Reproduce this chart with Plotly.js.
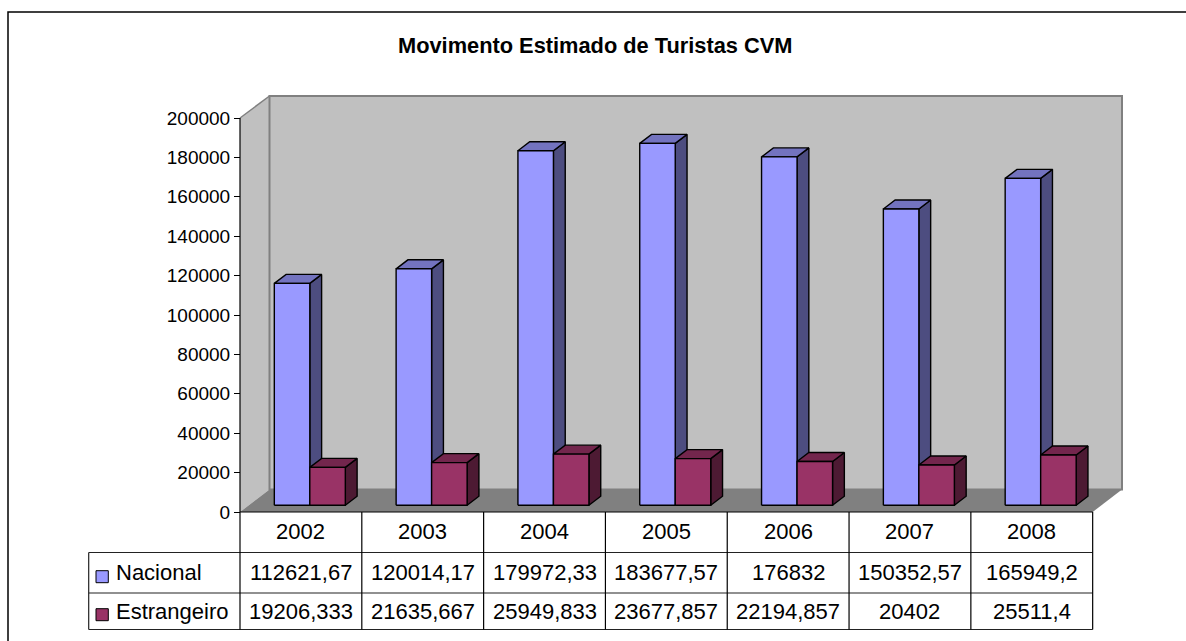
<!DOCTYPE html>
<html>
<head>
<meta charset="utf-8">
<script src="https://cdn.plot.ly/plotly-3.0.1.min.js"></script>
<style>html,body{margin:0;padding:0;background:#fff;}#chart{width:1186px;height:641px;}</style>
</head>
<body>
<div id="chart"></div>
<script>
// ---- data ----
const categories = ['2002', '2003', '2004', '2005', '2006', '2007', '2008'];
const nacional = [112621.67, 120014.17, 179972.33, 183677.57, 176832, 150352.57, 165949.2];
const estrangeiro = [19206.333, 21635.667, 25949.833, 23677.857, 22194.857, 20402, 25511.4];
const seriesNames = ['Nacional', 'Estrangeiro'];
const yTicks = [0, 20000, 40000, 60000, 80000, 100000, 120000, 140000, 160000, 180000, 200000];
const titleText = 'Movimento Estimado de Turistas CVM';

// ---- geometry (pixel frame of the page) ----
const W = 1186, H = 641;
const PX0 = 240, CW = 121.81;   // left of first category, category width (px)
const Y0 = 512, KY = 0.00197;   // px of zero, px per unit
function xd(px) { return (px - PX0) / CW - 0.5; }
function yd(py) { return (Y0 - py) / KY; }
const FONT = '"Liberation Sans", Arial, sans-serif';

const offF = 8.9 / CW, bw = 35.5 / CW, ddx = 11.8 / CW, ddy = 9 / KY, base = 6.75 / KY;

const frontCol = ['#9999FF', '#993366'];
const sideCol = ['#4D4D80', '#4D1A33'];
const topCol = ['#7373BF', '#73264D'];

function faces(vals, s) {
  const fx = [], fy = [], sx = [], sy = [], tx = [], ty = [];
  vals.forEach((v, i) => {
    const xl = s === 0 ? i + offF - bw : i + offF;
    const xr = xl + bw;
    const b = base, t = base + v;
    fx.push(xl, xr, xr, xl, xl, null); fy.push(b, b, t, t, b, null);
    sx.push(xr, xr + ddx, xr + ddx, xr, xr, null); sy.push(b, b + ddy, t + ddy, t, b, null);
    tx.push(xl, xr, xr + ddx, xl + ddx, xl, null); ty.push(t, t, t + ddy, t + ddy, t, null);
  });
  const mk = (x, y, c) => ({
    type: 'scatter', mode: 'lines', x: x, y: y, fill: 'toself', fillcolor: c,
    line: {color: '#000', width: 1.4}, hoverinfo: 'skip', showlegend: false
  });
  return [mk(sx, sy, sideCol[s]), mk(tx, ty, topCol[s]), mk(fx, fy, frontCol[s])];
}

const traces = [].concat(faces(nacional, 0), faces(estrangeiro, 1));

function P(pts) {
  return pts.map((p, k) => (k ? 'L' : 'M') + xd(p[0]) + ',' + yd(p[1])).join(' ') + ' Z';
}
function line(x0, y0, x1, y1, col, w) {
  return {type: 'line', xref: 'x', yref: 'y', x0: xd(x0), y0: yd(y0), x1: xd(x1), y1: yd(y1),
          line: {color: col, width: w}, layer: 'above'};
}

const BX = 269.5, BY = 96, FY = 489.5, RX = 1122, FRX = PX0 + 7 * CW;
const shapes = [
  {type: 'path', xref: 'x', yref: 'y', path: P([[PX0, 118], [BX, BY], [BX, FY], [PX0, Y0]]),
   fillcolor: '#C0C0C0', line: {width: 0}, layer: 'below'},
  {type: 'path', xref: 'x', yref: 'y', path: P([[BX, BY], [RX, BY], [RX, FY], [BX, FY]]),
   fillcolor: '#C0C0C0', line: {color: '#808080', width: 2}, layer: 'below'},
  {type: 'path', xref: 'x', yref: 'y', path: P([[PX0, Y0], [BX, FY], [RX, FY], [FRX, Y0]]),
   fillcolor: '#808080', line: {width: 0}, layer: 'below'},
  line(PX0, 118, BX, BY, '#808080', 1.5),
  // outer frame
  {type: 'rect', xref: 'x', yref: 'y', x0: xd(8), y0: yd(12), x1: xd(1200), y1: yd(660),
   line: {color: '#000', width: 1.5}, fillcolor: 'rgba(0,0,0,0)', layer: 'below'}
];
// table lines
const TL = 88.7, R1 = 552.5, R2 = 593, R3 = 629.5;
shapes.push(line(PX0, Y0, FRX, Y0, '#000', 1.2));
[R1, R2, R3].forEach(y => shapes.push(line(TL, y, FRX, y, '#222', 1.2)));
shapes.push(line(TL, R1, TL, R3, '#222', 1.2));
for (let k = 0; k <= categories.length; k++) {
  shapes.push(line(PX0 + k * CW, k === 0 ? 118 : Y0, PX0 + k * CW, R3, '#000', 1.2));
}
// legend keys
[[576.7, 0], [614.7, 1]].forEach(([cy, s]) => {
  shapes.push({type: 'rect', xref: 'x', yref: 'y', x0: xd(96), x1: xd(108.3), y0: yd(cy - 6), y1: yd(cy + 6),
    fillcolor: frontCol[s], line: {color: '#000', width: 1}, layer: 'above'});
});

function fmt(v) { return String(v).replace('.', ','); }
const TF = {family: FONT, size: 22, color: '#000'};
const annotations = [];
categories.forEach((c, i) => {
  annotations.push({x: i, y: yd(531), xref: 'x', yref: 'y', text: c, showarrow: false, font: TF});
  annotations.push({x: i, y: yd(572.5), xref: 'x', yref: 'y', text: fmt(nacional[i]), showarrow: false, font: TF});
  annotations.push({x: i, y: yd(611.5), xref: 'x', yref: 'y', text: fmt(estrangeiro[i]), showarrow: false, font: TF});
});
annotations.push({x: xd(114), y: yd(572.5), xref: 'x', yref: 'y', text: seriesNames[0], showarrow: false, xanchor: 'left', font: TF});
annotations.push({x: xd(114), y: yd(611.5), xref: 'x', yref: 'y', text: seriesNames[1], showarrow: false, xanchor: 'left', font: TF});
annotations.push({x: xd(595), y: yd(45), xref: 'x', yref: 'y', text: '<b>' + titleText + '</b>', showarrow: false,
  font: {family: FONT, size: 21.8, color: '#000'}});

const layout = {
  width: W, height: H,
  margin: {l: 0, r: 0, t: 0, b: 0, pad: 0},
  paper_bgcolor: '#fff', plot_bgcolor: 'rgba(0,0,0,0)',
  showlegend: false,
  xaxis: {range: [xd(0), xd(W)], visible: false, fixedrange: true},
  yaxis: {range: [yd(H), yd(0)], anchor: 'free', position: PX0 / W, showgrid: false, zeroline: false,
          showline: false, ticks: 'outside', ticklen: 6, tickwidth: 1, tickcolor: '#000',
          tickvals: yTicks, ticktext: yTicks.map(String), tickfont: {family: FONT, size: 19, color: '#000'},
          automargin: false, fixedrange: true},
  shapes: shapes,
  annotations: annotations
};

Plotly.newPlot('chart', traces, layout, {staticPlot: true, displayModeBar: false});
</script>
</body>
</html>
